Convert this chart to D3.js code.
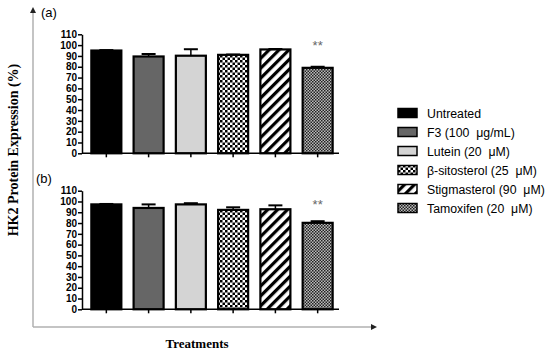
<!DOCTYPE html>
<html>
  <head>
    <meta charset="utf-8">
    <script src="https://cdn.jsdelivr.net/npm/d3@7"></script>
    <style>
      body { margin: 0px; background: #fff; }
      .axis text { font-family: 'Liberation Sans', Arial, sans-serif; font-weight: bold; font-size: 10px; fill: #000; }
      .axis path, .axis line { stroke: #000; stroke-width: 1.5px; }
      .title { font-family: 'Liberation Serif', 'Times New Roman', serif; font-weight: bold; font-size: 13px; }
      .legend text { font-family: 'Liberation Sans', Arial, sans-serif; font-size: 12.3px; }
      .panel-label { font-family: 'Liberation Sans', Arial, sans-serif; font-size: 13px; }
    </style>
  </head>
  <body>
    <svg width="550" height="353"></svg>
    <script>
      var treatments = ['Untreated', 'F3 (100 \u00a0\u03bcg/mL)', 'Lutein (20 \u00a0\u03bcM)',
        '\u03b2-sitosterol (25 \u00a0\u03bcM)', 'Stigmasterol (90 \u00a0\u03bcM)', 'Tamoxifen (20 \u00a0\u03bcM)'];
      var valuesA = [95, 89.5, 90.2, 91, 96, 79];
      var errorsA = [0.4, 2.3, 6, 0.3, 0.4, 1];
      var valuesB = [97.3, 94, 97.3, 92.2, 92.8, 80.2];
      var errorsB = [0.4, 3.3, 1.1, 2.4, 3.6, 1.5];
      var yTicks = [0, 10, 20, 30, 40, 50, 60, 70, 80, 90, 100, 110];
      var fills = ['#000', '#666', '#d4d4d4', 'url(#checker)', 'url(#stripes)', 'url(#fine)'];

      var svg = d3.select('svg');
      var defs = svg.append('defs');

      // checkerboard
      var p1 = defs.append('pattern').attr('id', 'checker').attr('patternUnits', 'userSpaceOnUse')
        .attr('width', 5).attr('height', 5);
      p1.append('rect').attr('width', 5).attr('height', 5).attr('fill', '#fff');
      p1.append('rect').attr('width', 2.5).attr('height', 2.5).attr('fill', '#000');
      p1.append('rect').attr('x', 2.5).attr('y', 2.5).attr('width', 2.5).attr('height', 2.5).attr('fill', '#000');

      // diagonal stripes
      var p2 = defs.append('pattern').attr('id', 'stripes').attr('patternUnits', 'userSpaceOnUse')
        .attr('width', 7).attr('height', 7).attr('patternTransform', 'rotate(45)');
      p2.append('rect').attr('width', 7).attr('height', 7).attr('fill', '#fff');
      p2.append('rect').attr('width', 3.2).attr('height', 7).attr('fill', '#000');

      // fine checker
      var p3 = defs.append('pattern').attr('id', 'fine').attr('patternUnits', 'userSpaceOnUse')
        .attr('width', 3).attr('height', 3);
      p3.append('rect').attr('width', 3).attr('height', 3).attr('fill', '#bbb');
      p3.append('rect').attr('width', 1.5).attr('height', 1.5).attr('fill', '#222');
      p3.append('rect').attr('x', 1.5).attr('y', 1.5).attr('width', 1.5).attr('height', 1.5).attr('fill', '#222');

      var arrow = defs.append('marker').attr('id', 'arr').attr('viewBox', '0 0 10 10')
        .attr('refX', 5).attr('refY', 5).attr('markerWidth', 4).attr('markerHeight', 4)
        .attr('orient', 'auto');
      arrow.append('path').attr('d', 'M0,0L10,5L0,10z').attr('fill', '#222');

      // frame axes (gray arrows)
      svg.append('path').attr('d', 'M33,327L33,10').attr('stroke', '#b0b0b0').attr('stroke-width', 1.5)
        .attr('fill', 'none').attr('marker-end', 'url(#arr)');
      svg.append('path').attr('d', 'M33,327L374,327').attr('stroke', '#b0b0b0').attr('stroke-width', 1.5)
        .attr('fill', 'none').attr('marker-end', 'url(#arr)');

      var x = d3.scaleBand().domain(d3.range(6)).range([85, 339]).paddingInner(0.29).paddingOuter(0.15);

      function panel(values, errors, y0, y1, label, labelX, labelY, starY) {
        var y = d3.scaleLinear().domain([0, 110]).range([y0, y1]);
        var g = svg.append('g');

        // error bars
        values.forEach(function (v, i) {
          var cx = x(i) + x.bandwidth() / 2;
          g.append('line').attr('x1', cx).attr('x2', cx).attr('y1', y(v)).attr('y2', y(v + errors[i]))
            .attr('stroke', '#000').attr('stroke-width', 1.5);
          g.append('line').attr('x1', cx - 7).attr('x2', cx + 7).attr('y1', y(v + errors[i])).attr('y2', y(v + errors[i]))
            .attr('stroke', '#000').attr('stroke-width', 2);
        });

        g.selectAll('rect.bar').data(values).enter().append('rect')
          .attr('class', 'bar')
          .attr('x', function (d, i) { return x(i); })
          .attr('width', x.bandwidth())
          .attr('y', function (d) { return y(d); })
          .attr('height', function (d) { return y(0) - y(d); })
          .attr('fill', function (d, i) { return fills[i]; })
          .attr('stroke', '#000').attr('stroke-width', 2.2);

        g.append('g').attr('class', 'axis').attr('transform', 'translate(82,0)')
          .call(d3.axisLeft(y).tickValues(yTicks).tickSize(4).tickSizeOuter(0).tickPadding(1));
        var xAxis = d3.axisBottom(x).tickSize(4).tickSizeOuter(0).tickFormat('');
        var xg = g.append('g').attr('class', 'axis').attr('transform', 'translate(0,' + y0 + ')').call(xAxis);
        xg.select('.domain').attr('d', 'M82,0H339');

        g.append('text').attr('x', x(5) + x.bandwidth() / 2).attr('y', starY)
          .attr('text-anchor', 'middle').attr('fill', '#666')
          .style('font-family', 'Liberation Sans, Arial, sans-serif').style('font-size', '13px').text('**');

        svg.append('text').attr('class', 'panel-label').attr('x', labelX).attr('y', labelY).text(label);
      }

      panel(valuesA, errorsA, 153.3, 34.3, '(a)', 41, 17, 50);
      panel(valuesB, errorsB, 309.3, 190.7, '(b)', 36, 183, 209);

      svg.append('text').attr('class', 'title').attr('text-anchor', 'middle')
        .style('font-size', '14px')
        .attr('transform', 'translate(18,150) rotate(-90)').text('HK2 Protein Expression (%)');
      svg.append('text').attr('class', 'title').attr('text-anchor', 'middle')
        .attr('x', 197).attr('y', 348).text('Treatments');

      var legend = svg.append('g').attr('class', 'legend');
      var rows = legend.selectAll('g').data(treatments).enter().append('g')
        .attr('transform', function (d, i) { return 'translate(398,' + (113 + i * 19) + ')'; });
      rows.append('rect').attr('x', 0).attr('y', -4.5).attr('width', 19).attr('height', 9)
        .attr('fill', function (d, i) { return fills[i]; })
        .attr('stroke', '#000').attr('stroke-width', 1.5);
      rows.append('text').attr('x', 29).attr('y', 4.5).text(function (d) { return d; });
    </script>
  </body>
</html>
